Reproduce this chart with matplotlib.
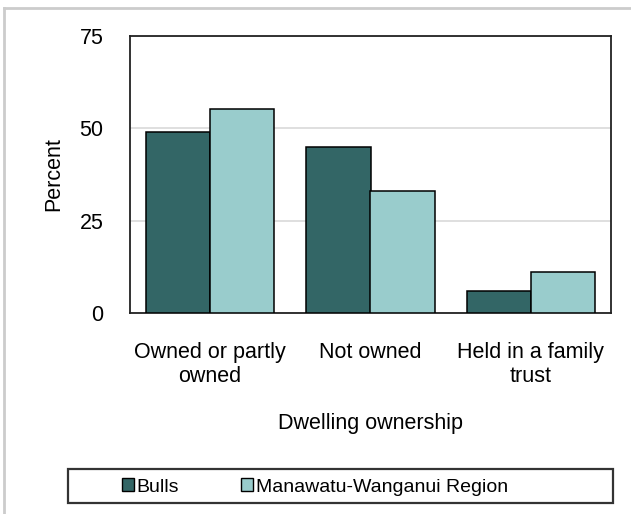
import matplotlib.pyplot as plt
import matplotlib.patches as mpatches
from matplotlib.lines import Line2D
import numpy as np

plt.rcParams['font.family'] = ['Liberation Sans', 'DejaVu Sans']

categories = ["Owned or partly\nowned", "Not owned", "Held in a family\ntrust"]
bulls = [49.1, 45.0, 6.0]
region = [55.2, 33.1, 11.2]
series_names = ["Bulls", "Manawatu-Wanganui Region"]
yticks = [0, 25, 50, 75]

dark = "#336666"
light = "#99CCCC"

fig = plt.figure(figsize=(6.31, 5.14), dpi=100)
ax = fig.add_axes([130/631, 1-313/514, 481/631, 277/514])

x = np.arange(len(categories))
w = 0.4
ax.bar(x-w/2, bulls, width=w, color=dark, edgecolor="black", linewidth=1.1, zorder=3)
ax.bar(x+w/2, region, width=w, color=light, edgecolor="black", linewidth=1.1, zorder=3)

ax.set_xlim(-0.5, 2.5)
ax.set_ylim(0, 75)
ax.set_yticks(yticks)
ax.set_xticks(x)
ax.set_xticklabels(categories, fontsize=15.5, linespacing=1.15)
ax.tick_params(axis="y", length=0, pad=19, labelsize=15.5)
ax.tick_params(axis="x", length=0, pad=21)
ax.grid(axis="y", color="#D9D9D9", linewidth=1.2, zorder=0)
for s in ax.spines.values():
    s.set_linewidth(1.3)
    s.set_color("#222222")
ax.set_ylabel("Percent", fontsize=15.5, labelpad=11)
ax.set_xlabel("Dwelling ownership", fontsize=15.5, labelpad=19)

# legend with separate box
handles = [mpatches.Patch(facecolor=dark, edgecolor="black", linewidth=1.0),
           mpatches.Patch(facecolor=light, edgecolor="black", linewidth=1.0)]
fig.legend(handles, series_names, loc="center", bbox_to_anchor=(315/631, 1-487/514),
           ncol=2, frameon=False, fontsize=14, handlelength=0.6, handleheight=0.6,
           handletextpad=0.15, columnspacing=3.2)
fig.patches.append(mpatches.Rectangle((68/631, 1-503/514), 545/631, 34/514,
                                      transform=fig.transFigure, fill=False,
                                      edgecolor="#333333", linewidth=1.6))

# outer light border
fig.lines.append(Line2D([4/631, 4/631], [0, 1-8/514], transform=fig.transFigure,
                        color="#CCCCCC", linewidth=2))
fig.lines.append(Line2D([4/631, 1], [1-8/514, 1-8/514], transform=fig.transFigure,
                        color="#CCCCCC", linewidth=2))

fig.savefig("out.png", dpi=100)
